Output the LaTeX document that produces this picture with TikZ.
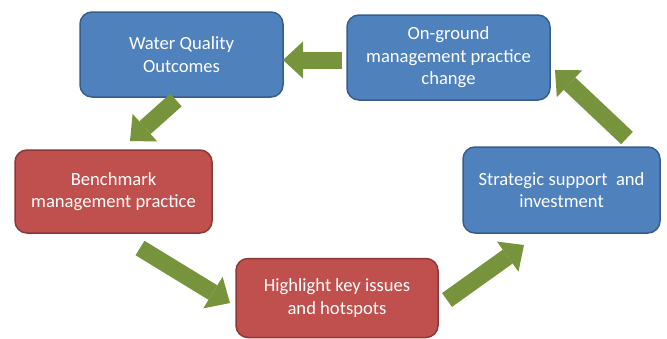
\documentclass[tikz,border=0pt]{standalone}
\usepackage{fontspec}
\setmainfont{Carlito}
\usetikzlibrary{arrows.meta}
\definecolor{bfill}{HTML}{4F81BD}
\definecolor{bline}{HTML}{385D8A}
\definecolor{rfill}{HTML}{C0504D}
\definecolor{rline}{HTML}{8C3836}
\definecolor{agreen}{HTML}{77933C}
\begin{document}
\begin{tikzpicture}[x=1pt,y=-1pt,
  box/.style={rounded corners=12pt, line width=1.5pt, align=center, text=white,
    font=\fontsize{18.6}{22.5}\selectfont, inner sep=0pt},
  bluebox/.style={box, fill=bfill, draw=bline},
  redbox/.style={box, fill=rfill, draw=rline},
  bigarrow/.style={draw=agreen, line width=17pt, line cap=butt,
    -{Triangle[width=37pt,length=20pt,line width=0pt]}}]
\useasboundingbox (0,0) rectangle (667,338);
\node[bluebox, minimum width=203pt, minimum height=85pt] (wq) at (181.5,54.5) {Water Quality\\Outcomes};
\node[bluebox, minimum width=203pt, minimum height=85pt] (og) at (448.5,57.5) {On-ground\\management practice\\change};
\node[redbox, minimum width=197pt, minimum height=83pt] (bm) at (113.5,191.5) {Benchmark\\management practice};
\node[bluebox, minimum width=197pt, minimum height=86pt] (ss) at (561.5,190) {Strategic support~ and\\investment};
\node[redbox, minimum width=202pt, minimum height=79pt] (hk) at (337,298) {Highlight key issues\\and hotspots};
\coordinate (a1s) at (342,60);  \coordinate (a1e) at (283,60);
\coordinate (a2s) at (176,100); \coordinate (a2e) at (130,141);
\coordinate (a3s) at (140,248); \coordinate (a3e) at (230,303);
\coordinate (a4s) at (447,300); \coordinate (a4e) at (524,245);
\coordinate (a5s) at (627,138); \coordinate (a5e) at (555,70);
\draw[bigarrow] (a1s) -- (a1e);
\draw[bigarrow] (a2s) -- (a2e);
\draw[bigarrow] (a3s) -- (a3e);
\draw[bigarrow] (a4s) -- (a4e);
\draw[bigarrow] (a5s) -- (a5e);
\end{tikzpicture}
\end{document}
